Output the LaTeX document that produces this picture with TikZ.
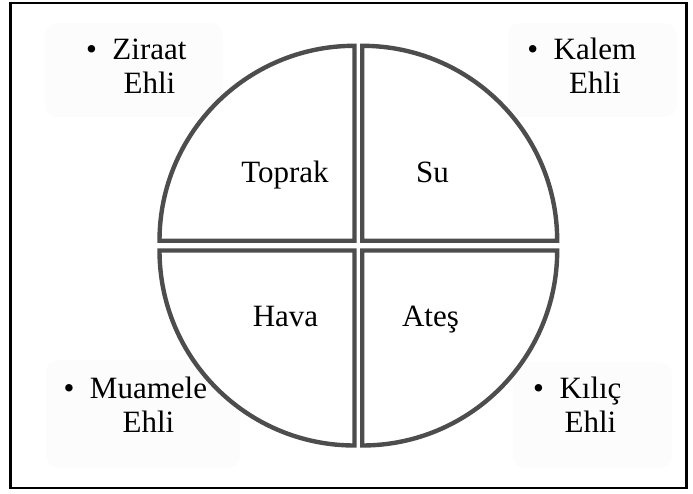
\documentclass[tikz,border=0pt]{standalone}
\usepackage{fontspec}
\setmainfont{Liberation Serif}
\begin{document}
\begin{tikzpicture}[x=1pt,y=1pt,
  quad/.style={draw=qgray,line width=4.4pt,fill=white,line join=miter},
  elem/.style={inner sep=0pt,anchor=base,font=\fontsize{31}{34}\selectfont},
  group/.style={inner sep=0pt,anchor=south,align=center,font=\fontsize{31}{34}\selectfont},
  faint/.style={fill=black!1,draw=none,rounded corners=12pt}]
\definecolor{qgray}{HTML}{4D4D4D}
\useasboundingbox (0,0) rectangle (693,493);
\draw[line width=2.5pt] (10.5,490) rectangle (686.5,5);
% faint label panels
\fill[faint] (45,470) rectangle (223,376);
\fill[faint] (508,470) rectangle (677,376);
\fill[faint] (46,133) rectangle (240,25);
\fill[faint] (513,131) rectangle (672,25);
% quadrants
\coordinate (ctl) at (354.5,252.2);
\coordinate (ctr) at (362.2,252.2);
\coordinate (cbl) at (354.5,242.5);
\coordinate (cbr) at (362.2,242.5);
\draw[quad] (ctl) -- ++(-195,0) arc[start angle=180,end angle=90,radius=195] -- cycle;
\draw[quad] (ctr) -- ++(195,0) arc[start angle=0,end angle=90,radius=195] -- cycle;
\draw[quad] (cbl) -- ++(-195,0) arc[start angle=180,end angle=270,radius=195] -- cycle;
\draw[quad] (cbr) -- ++(195,0) arc[start angle=0,end angle=-90,radius=195] -- cycle;
% element names
\node[elem] (toprak) at (285,310.7) {Toprak};
\node[elem] (su) at (432.5,310.7) {Su};
\node[elem] (hava) at (285.5,166.3) {Hava};
\node[elem] (ates) at (430.5,166.3) {Ateş};
% groups
\node[group] (ziraat) at (149.5,399.7) {\llap{•\hspace{15.5pt}}Ziraat\\Ehli};
\node[group] (kalem) at (595,399.7) {\llap{•\hspace{15.5pt}}Kalem\\Ehli};
\node[group] (muamele) at (148.5,60) {\llap{•\hspace{15.5pt}}Muamele\\Ehli};
\node[group] (kilic) at (590.5,60) {\llap{•\hspace{15.5pt}}Kılıç\\Ehli};
\end{tikzpicture}
\end{document}
